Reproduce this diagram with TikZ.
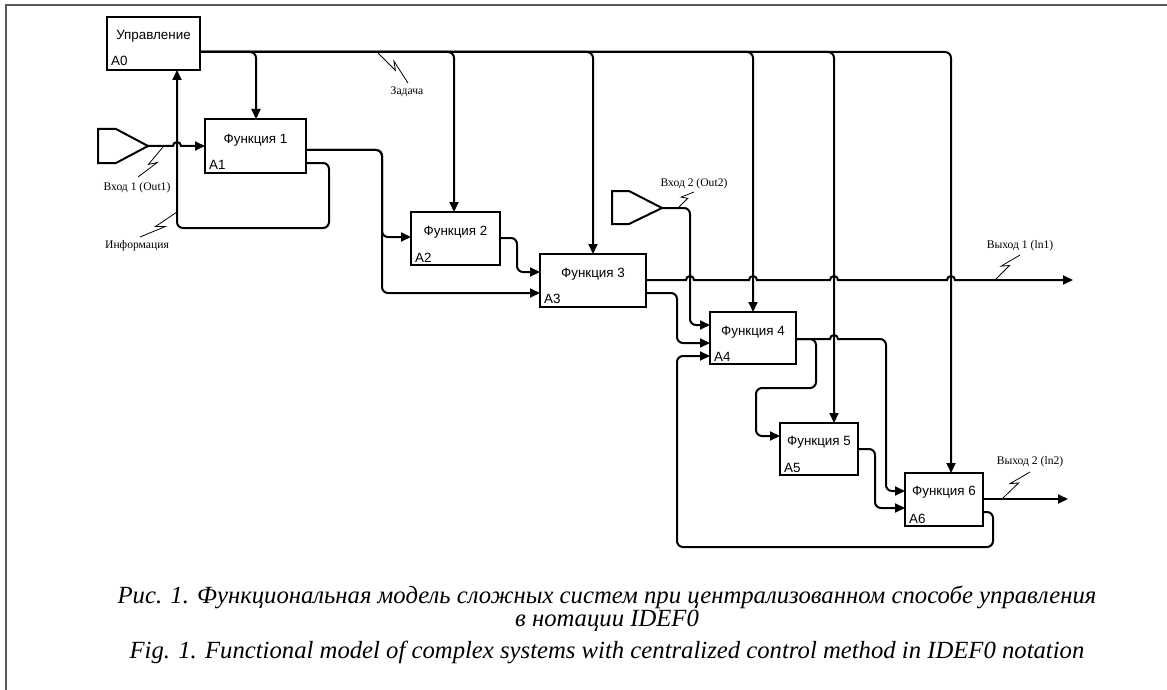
\documentclass[tikz,border=0pt]{standalone}
\usepackage{fontspec}
\setmainfont{Liberation Serif}
\newfontfamily\arialf{Liberation Sans}
\usetikzlibrary{arrows.meta,calc}
\newcommand\squig[2]{\draw[sq] (#1) -- ($(#1)!0.58!(#2)$) -- ($(#1)!0.4!(#2)!5.5pt!90:(#2)$) -- (#2);}
\begin{document}
\begin{tikzpicture}[x=1pt,y=-1pt,
  fbox/.style={draw, line width=2pt, inner sep=0pt, outer sep=0pt},
  conn/.style={line width=2pt, rounded corners=6pt},
  arr/.style={-{Triangle[length=10pt,width=9pt]}},
  ttl/.style={font=\arialf\fontsize{13.4}{15}\selectfont, anchor=base, inner sep=0pt},
  idl/.style={font=\arialf\fontsize{13.4}{15}\selectfont, anchor=base west, inner sep=0pt},
  sq/.style={line width=0.8pt},
  lbl/.style={font=\fontsize{11.6}{13}\selectfont, inner sep=0pt},
  captxt/.style={font=\itshape\fontsize{24.7}{28}\selectfont, anchor=base, inner sep=0pt}
]
\useasboundingbox (0,0) rectangle (1167,690);
\fill[white] (0,0) rectangle (1167,690);
\draw[black!65, line width=1.5pt] (6,690) -- (6,5) -- (1167,5);

% boxes
\node[fbox, minimum width=93pt, minimum height=53pt] (a0) at (153.5,43.5) {};
\node[ttl] (a0t) at (153.5,40) {Управление};
\node[idl] (a0i) at (111,66) {A0};
\node[fbox, minimum width=101pt, minimum height=54pt] (f1) at (255.5,146) {};
\node[ttl] (f1t) at (255.5,143) {Функция 1};
\node[idl] (f1i) at (209,169) {A1};
\node[fbox, minimum width=89pt, minimum height=53pt] (f2) at (455.5,238.5) {};
\node[ttl] (f2t) at (455.5,235) {Функция 2};
\node[idl] (f2i) at (415,262) {A2};
\node[fbox, minimum width=106pt, minimum height=53pt] (f3) at (593,280.5) {};
\node[ttl] (f3t) at (593,277) {Функция 3};
\node[idl] (f3i) at (544,303) {A3};
\node[fbox, minimum width=86pt, minimum height=52pt] (f4) at (753,338) {};
\node[ttl] (f4t) at (753,335) {Функция 4};
\node[idl] (f4i) at (714,361.5) {A4};
\node[fbox, minimum width=78pt, minimum height=52pt] (f5) at (819,449) {};
\node[ttl] (f5t) at (819,445.5) {Функция 5};
\node[idl] (f5i) at (784,472) {A5};
\node[fbox, minimum width=78pt, minimum height=53pt] (f6) at (944,499.5) {};
\node[ttl] (f6t) at (944,495.5) {Функция 6};
\node[idl] (f6i) at (909,523) {A6};

% external inputs
\draw[line width=2pt] (98,129) -- (116,129) -- (148,146) -- (116,163) -- (98,163) -- cycle;
\coordinate (in1) at (148,146);
\draw[line width=2pt] (612,191) -- (629,191) -- (662,208) -- (629,224) -- (612,224) -- cycle;
\coordinate (in2) at (662,208);

% control bus
\draw[line width=2.8pt] (a0.east |- 0,52) -- (828,52);
\foreach \cx/\nd in {256/f1,454/f2,593/f3,753/f4,834/f5,951/f6}
  \draw[conn,arr] (a0.east |- 0,52) -| (\nd.north -| \cx,0);

% input 1 to F1 with jump
\draw[line width=2pt,arr] (in1) -- (173,146) arc[start angle=180,end angle=0,radius=4pt] -- (f1.west |- 0,146);
% information feedback to A0
\draw[conn,arr] (f1.east |- 0,163) -| (329,228) -| (a0.south -| 177,0);
% F1 outputs
\draw[conn,arr] (f1.east |- 0,150) -| (382,237) -- (f2.west |- 0,237);
\draw[conn,arr] (f1.east |- 0,150) -| (382,293) -- (f3.west |- 0,293);
% F2 output
\draw[conn,arr] (f2.east |- 0,238) -| (517,272) -- (f3.west |- 0,272);
% F3 outputs
\draw[line width=2pt,arr] (f3.east |- 0,280) -- (686,280) arc[start angle=180,end angle=0,radius=4pt]
  -- (749,280) arc[start angle=180,end angle=0,radius=4pt]
  -- (830,280) arc[start angle=180,end angle=0,radius=4pt]
  -- (947,280) arc[start angle=180,end angle=0,radius=4pt] -- (1073,280);
\coordinate (out1) at (1073,280);
\draw[conn,arr] (f3.east |- 0,293) -| (677,343) -- (f4.west |- 0,343);
% input 2
\draw[conn,arr] (in2) -| (690,325) -- (f4.west |- 0,325);
% F4 outputs
\draw[conn,arr] (f4.east |- 0,339) -| (816,388) -| (756,436) -- (f5.west |- 0,436);
\draw[line width=2pt] (f4.east |- 0,339) -- (830,339) arc[start angle=180,end angle=0,radius=4pt] -- (840,339);
\draw[conn,arr] (838,339) -| (886,491) -- (f6.west |- 0,491);
% F5 output
\draw[conn,arr] (f5.east |- 0,449) -| (875,508) -- (f6.west |- 0,508);
% F6 outputs
\draw[line width=2pt,arr] (f6.east |- 0,499) -- (1068,499);
\coordinate (out2) at (1068,499);
\draw[conn,arr] (f6.east |- 0,512) -| (993,547) -| (677,356) -- (f4.west |- 0,356);

% squiggles and labels
\coordinate (s1a) at (378,53); \coordinate (s1b) at (408,83); \squig{s1a}{s1b}
\node[lbl] (lz) at (407,92) {Задача};
\coordinate (s2a) at (163,147); \coordinate (s2b) at (138,177); \squig{s2a}{s2b}
\node[lbl] (lin1) at (137,188) {Вход 1 (Out1)};
\coordinate (s3a) at (177,212); \coordinate (s3b) at (140,237); \squig{s3a}{s3b}
\node[lbl] (linf) at (137,246) {Информация};
\coordinate (s4a) at (679,207); \coordinate (s4b) at (694,192); \squig{s4a}{s4b}
\node[lbl] (lin2) at (694,184) {Вход 2 (Out2)};
\coordinate (s5a) at (995,280); \coordinate (s5b) at (1020,255); \squig{s5a}{s5b}
\node[lbl] (lout1) at (1020,246) {Выход 1 (ln1)};
\coordinate (s6a) at (1003,498); \coordinate (s6b) at (1030,472); \squig{s6a}{s6b}
\node[lbl] (lout2) at (1030,462) {Выход 2 (ln2)};

% caption
\node[captxt] (c1) at (607,603) {Рис. 1. Функциональная модель сложных систем при централизованном способе управления};
\node[captxt] (c2) at (607,626) {в нотации IDEF0};
\node[captxt] (c3) at (607,658) {Fig. 1. Functional model of complex systems with centralized control method in IDEF0 notation};
\end{tikzpicture}
\end{document}
